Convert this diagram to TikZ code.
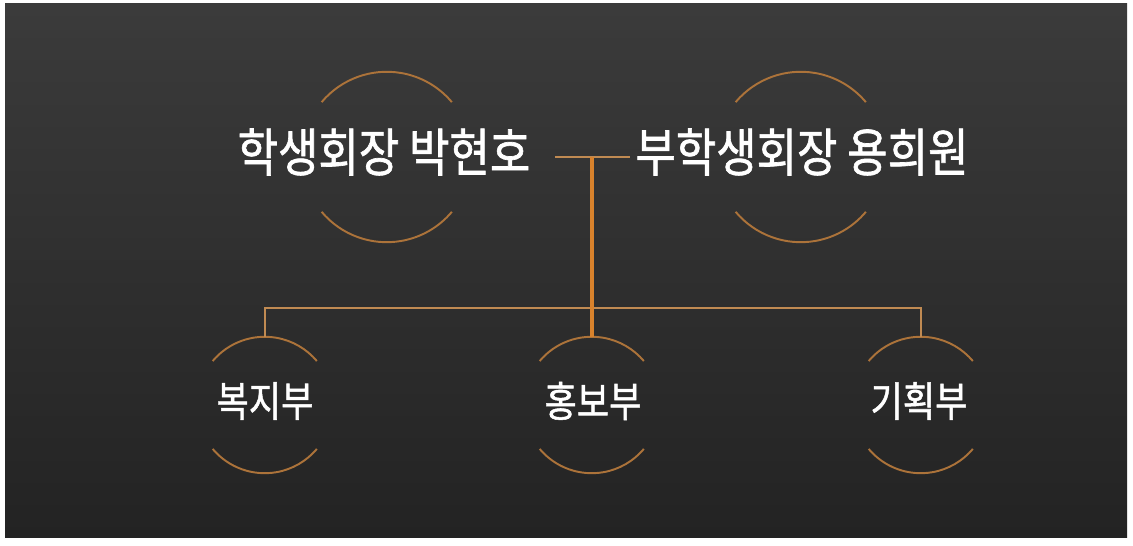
\documentclass[tikz,border=0pt]{standalone}
\usepackage{fontspec}
\usepackage{graphicx}
\newfontfamily\krfont{Noto Sans CJK KR}[RawFeature={embolden=1.3}]
\newcommand\tallkr[1]{\scalebox{1}[1.18]{#1}}
\definecolor{bgtop}{HTML}{3B3B3B}
\definecolor{bgbot}{HTML}{232323}
\definecolor{ringtan}{HTML}{AC733A}
\definecolor{linktan}{HTML}{C08A52}
\definecolor{trunkorange}{HTML}{D8822C}
\begin{document}
\begin{tikzpicture}[x=0.02cm,y=0.02cm,
    ring/.style = {ringtan,line width=1.1pt},
    link/.style = {linktan,line width=1.3pt},
    trunk/.style = {trunkorange,line width=2.1pt},
    hub/.style = {circle,minimum size=3.4cm,inner sep=0pt},
    dept/.style = {circle,minimum size=2.72cm,inner sep=0pt},
    deptname/.style = {text=white,inner sep=0pt,
                       font=\krfont\fontsize{20}{20}\selectfont},
    title/.style = {text=white,inner sep=0pt,
                    font=\krfont\fontsize{25}{25}\selectfont}]
    \useasboundingbox (0,0) rectangle (1133,546);
    \fill[white] (0,0) rectangle (1133,546);
    \shade[top color=bgtop,bottom color=bgbot] (5,8) rectangle (1127,542);

    % officers
    \node[hub] (pres) at (387,389) {};
    \node[hub] (vice) at (801,389) {};
    \node[title] (presname) at (384,394) {\tallkr{학생회장 박현호}};
    \node[title] (vicename) at (802,394) {\tallkr{부학생회장 용희원}};

    % departments
    \node[dept] (bokji) at (265,141) {};
    \node[dept] (hongbo) at (592,141) {};
    \node[dept] (gihoek) at (921,141) {};
    \node[deptname] (bokjiname) at (265,145) {\tallkr{복지부}};
    \node[deptname] (hongboname) at (593,145) {\tallkr{홍보부}};
    \node[deptname] (gihoekname) at (919,145) {\tallkr{기획부}};

    \foreach \n in {pres,vice} {
        \draw[ring] (\n.140) arc[start angle=140,end angle=40,radius=85];
        \draw[ring] (\n.220) arc[start angle=220,end angle=320,radius=85];
    }
    \foreach \n in {bokji,hongbo,gihoek} {
        \draw[ring] (\n.140) arc[start angle=140,end angle=40,radius=68];
        \draw[ring] (\n.220) arc[start angle=220,end angle=320,radius=68];
    }

    % connectors
    \coordinate (jl) at (555,389);
    \coordinate (jr) at (630,389);
    \coordinate (jt) at (592,389);
    \coordinate (jb) at (592,238);
    \draw[link] (jl) -- (jr);
    \draw[link] (bokji.north) |- (jb) -| (gihoek.north);
    \draw[trunk] (jt) -- (hongbo.north);
\end{tikzpicture}
\end{document}
